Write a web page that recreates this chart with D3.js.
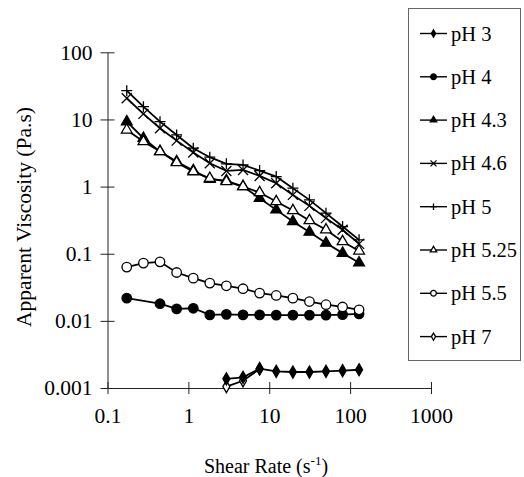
<!DOCTYPE html>
<html>
<head>
<meta charset="utf-8">
<script src="https://cdn.jsdelivr.net/npm/d3@7"></script>
<style>
  body { margin: 0; background: #fff; }
  svg text { font-family: "Liberation Serif", "Times New Roman", serif; fill: #000; }
</style>
</head>
<body>
<svg id="chart" width="524" height="477"></svg>
<script>
// Taxa de cisalhamento (s-1), uma por ponto medido.
const shearRate = [0.173, 0.278, 0.446, 0.716, 1.15, 1.84, 2.95, 4.74, 7.6, 12.2, 19.6, 31.4, 50.3, 80.7, 129];

// Viscosidade aparente (Pa.s) por pH; null = sem ponto.
const ph3 = [null, null, null, null, null, null, 0.00137, 0.00144, 0.00194, 0.00177, 0.00173, 0.00173, 0.00177, 0.00181, 0.00187];
const ph4 = [0.0218, null, 0.018, 0.0151, 0.0154, 0.0123, 0.0125, 0.0123, 0.0123, 0.0122, 0.0122, 0.0122, 0.0122, 0.0124, 0.0127];
const ph43 = [9.27, 5.25, 3.32, 2.36, 1.73, 1.29, 1.23, 1.0, 0.671, 0.45, 0.301, 0.21, 0.144, 0.102, 0.0733];
const ph46 = [20.7, 12.1, 7.4, 4.84, 3.21, 2.23, 1.71, 1.77, 1.44, 1.12, 0.752, 0.516, 0.339, 0.227, 0.14];
const ph5 = [26.8, 15.5, 9.27, 5.88, 3.73, 2.74, 2.18, 2.1, 1.73, 1.41, 0.946, 0.634, 0.402, 0.254, 0.161];
const ph525 = [6.98, 4.68, 3.32, 2.28, 1.67, 1.33, 1.19, 1.0, 0.814, 0.598, 0.44, 0.312, 0.227, 0.152, 0.11];
const ph55 = [0.0632, 0.0725, 0.0757, 0.0525, 0.0433, 0.0365, 0.0333, 0.0301, 0.0259, 0.0239, 0.0218, 0.0194, 0.0174, 0.0161, 0.0146];
const ph7 = [null, null, null, null, null, null, 0.00105, 0.00128, 0.00192, null, null, null, null, null, null];

const seriesNames = ['pH 3', 'pH 4', 'pH 4.3', 'pH 4.6', 'pH 5', 'pH 5.25', 'pH 5.5', 'pH 7'];
const seriesValues = [ph3, ph4, ph43, ph46, ph5, ph525, ph55, ph7];
const seriesMarkers = ['diamond', 'circle', 'triangle', 'x', 'plus', 'triangleOpen', 'circleOpen', 'diamondOpen'];

const xTicks = [0.1, 1, 10, 100, 1000];
const yTicks = [0.001, 0.01, 0.1, 1, 10, 100];

const svg = d3.select('#chart');

const x = d3.scaleLog().domain([0.1, 1000]).range([107.5, 431]);
const y = d3.scaleLog().domain([0.001, 100]).range([388, 52.3]);

// Eixos com marcas que cruzam a linha.
const gx = svg.append('g').attr('transform', 'translate(0,388)')
    .call(d3.axisBottom(x).tickValues(xTicks).tickFormat(d => String(d)).tickSizeOuter(0));
gx.selectAll('.tick line').attr('y1', -6).attr('y2', 6);

const gy = svg.append('g').attr('transform', 'translate(107.5,0)')
    .call(d3.axisLeft(y).tickValues(yTicks).tickFormat(d => String(d)).tickSizeOuter(0));
gy.selectAll('.tick line').attr('x1', -7).attr('x2', 7);

svg.selectAll('.domain, .tick line').attr('stroke', '#222').attr('stroke-width', 1);
svg.selectAll('.tick text').style('font-size', '21.5px')
    .style('font-family', '"Liberation Serif", "Times New Roman", serif');
gx.selectAll('.tick text').attr('y', 20);
gy.selectAll('.tick text').attr('x', -15);

// Títulos dos eixos.
svg.append('text')
    .attr('transform', 'translate(31,217) rotate(-90)')
    .attr('text-anchor', 'middle')
    .style('font-size', '21.5px')
    .text('Apparent Viscosity (Pa.s)');

const xt = svg.append('text')
    .attr('x', 266).attr('y', 473)
    .attr('text-anchor', 'middle')
    .style('font-size', '20px');
xt.append('tspan').text('Shear Rate (s');
xt.append('tspan').attr('dy', -8).style('font-size', '13px').text('-1');
xt.append('tspan').attr('dy', 8).text(')');

function marker(sel, kind, s) {
    const filled = !/Open/.test(kind);
    if (kind === 'x') {
        sel.append('path').attr('d', `M${-s},${-s}L${s},${s}M${-s},${s}L${s},${-s}`)
            .attr('stroke', '#000').attr('stroke-width', 1.3).attr('fill', 'none');
    } else if (kind === 'plus') {
        sel.append('path').attr('d', `M${-s * 1.1},0H${s * 1.1}M0,${-s * 1.1}V${s * 1.1}`)
            .attr('stroke', '#000').attr('stroke-width', 1.3).attr('fill', 'none');
    } else {
        let type = d3.symbolCircle, area = Math.PI * s * s * 0.9;
        if (/diamond/.test(kind)) { type = d3.symbolDiamond; area = s * s * 1.7; }
        if (/triangle/.test(kind)) { type = d3.symbolTriangle; area = s * s * 2.0; }
        sel.append('path').attr('d', d3.symbol().type(type).size(area)())
            .attr('fill', filled ? '#000' : '#fff')
            .attr('stroke', '#000').attr('stroke-width', 1.3);
    }
}

const line = d3.line()
    .defined(d => d[1] != null)
    .x(d => x(d[0])).y(d => y(d[1]));

// pH 7 desenhado primeiro para ficar sob pH 3.
const order = [7, 0, 1, 2, 3, 4, 5, 6];
order.forEach(function (i) {
    const pts = shearRate.map((r, k) => [r, seriesValues[i][k]]).filter(d => d[1] != null);
    svg.append('path').datum(pts)
        .attr('d', line)
        .attr('fill', 'none').attr('stroke', '#000').attr('stroke-width', 1.8);
    const g = svg.append('g');
    pts.forEach(function (d) {
        const m = g.append('g').attr('transform', `translate(${x(d[0])},${y(d[1])})`);
        marker(m, seriesMarkers[i], 5);
    });
});

// Legenda.
const legend = svg.append('g');
legend.append('rect')
    .attr('x', 408.5).attr('y', 8.5).attr('width', 112).attr('height', 352)
    .attr('fill', 'none').attr('stroke', '#666').attr('stroke-width', 1);

seriesNames.forEach(function (name, i) {
    const ly = 33.5 + i * 43.3;
    legend.append('line').attr('x1', 420).attr('x2', 447).attr('y1', ly).attr('y2', ly)
        .attr('stroke', '#000').attr('stroke-width', 1.4);
    const m = legend.append('g').attr('transform', `translate(433.5,${ly})`);
    marker(m, seriesMarkers[i], 3);
    legend.append('text').attr('x', 451).attr('y', ly + 7)
        .style('font-size', '20.5px').text(name);
});
</script>
</body>
</html>
